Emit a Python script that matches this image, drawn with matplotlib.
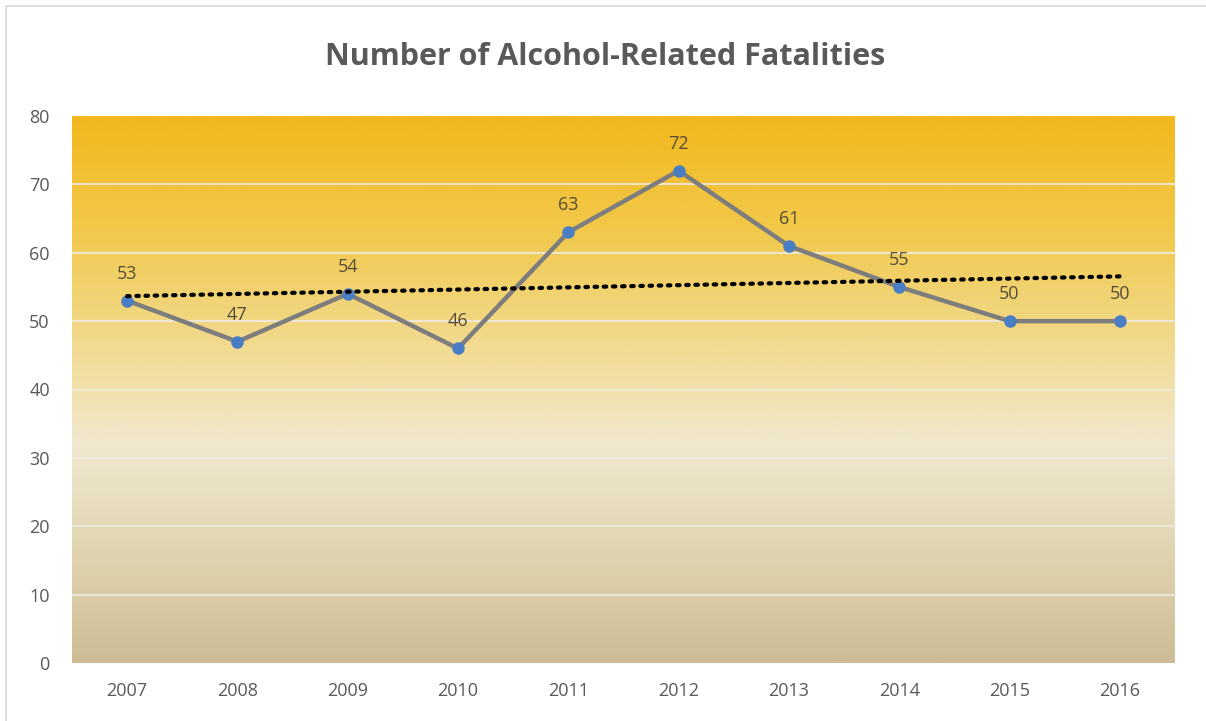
import numpy as np
import matplotlib
matplotlib.use('Agg')
import matplotlib.pyplot as plt
from matplotlib.colors import LinearSegmentedColormap

# Data
years = ['2007', '2008', '2009', '2010', '2011', '2012', '2013', '2014', '2015', '2016']
fatalities = [53, 47, 54, 46, 63, 72, 61, 55, 50, 50]
y_ticks = [0, 10, 20, 30, 40, 50, 60, 70, 80]

plt.rcParams['font.family'] = ['Open Sans', 'DejaVu Sans']

fig = plt.figure(figsize=(12.06, 7.21), dpi=100)
ax = fig.add_axes([72/1206, 1-663/721, (1175-72)/1206, (663-116)/721])

# background gradient (bottom tan -> cream -> orange at top)
cmap = LinearSegmentedColormap.from_list('bg', [
    (0.0, '#cdbd96'),
    (0.20, '#e0d4b0'),
    (0.40, '#f1e8cf'),
    (0.60, '#f1d98a'),
    (0.80, '#f2c849'),
    (1.0, '#f2b81d')])
grad = np.linspace(0, 1, 256).reshape(-1, 1)
x = np.arange(len(years))
ax.imshow(grad, cmap=cmap, origin='lower', aspect='auto',
          extent=[-0.5, len(years) - 0.5, 0, 80], zorder=0)

for t in y_ticks[1:-1]:
    ax.axhline(t, color='#efe9dc', lw=1.5, alpha=0.9, zorder=1)

ax.plot(x, fatalities, color='#7d7d7d', lw=3.2, zorder=3)
ax.plot(x, fatalities, 'o', color='#4a7ec4', ms=8, zorder=4)

# linear trendline
coef = np.polyfit(x, fatalities, 1)
trend = np.polyval(coef, x)
ax.plot(x, trend, color='black', lw=3, linestyle=(0, (0.6, 1.6)),
        dash_capstyle='round', zorder=5)

for xi, v in zip(x, fatalities):
    ax.annotate(str(v), (xi, v), xytext=(0, 13), textcoords='offset points',
                ha='center', va='bottom', fontsize=13, color='#544c36', zorder=6)

ax.set_xlim(-0.5, len(years) - 0.5)
ax.set_ylim(0, 80)
ax.set_xticks(x)
ax.set_xticklabels(years)
ax.set_yticks(y_ticks)
ax.tick_params(axis='both', length=0, labelsize=13, labelcolor='#595959')
ax.tick_params(axis='x', pad=14)
ax.tick_params(axis='y', pad=16)
for s in ax.spines.values():
    s.set_visible(False)

fig.text(0.502, 1 - 57/721, 'Number of Alcohol-Related Fatalities', ha='center', va='center',
         fontsize=22, fontweight='bold', color='#595959')

# outer chart border
fig.patches.append(plt.Rectangle((6/1206, -0.01), 1.2, 1 - 6/721 + 0.01, transform=fig.transFigure,
                                 fill=False, edgecolor='#d9d9d9', lw=1.2))

fig.savefig('out.png', dpi=100)
